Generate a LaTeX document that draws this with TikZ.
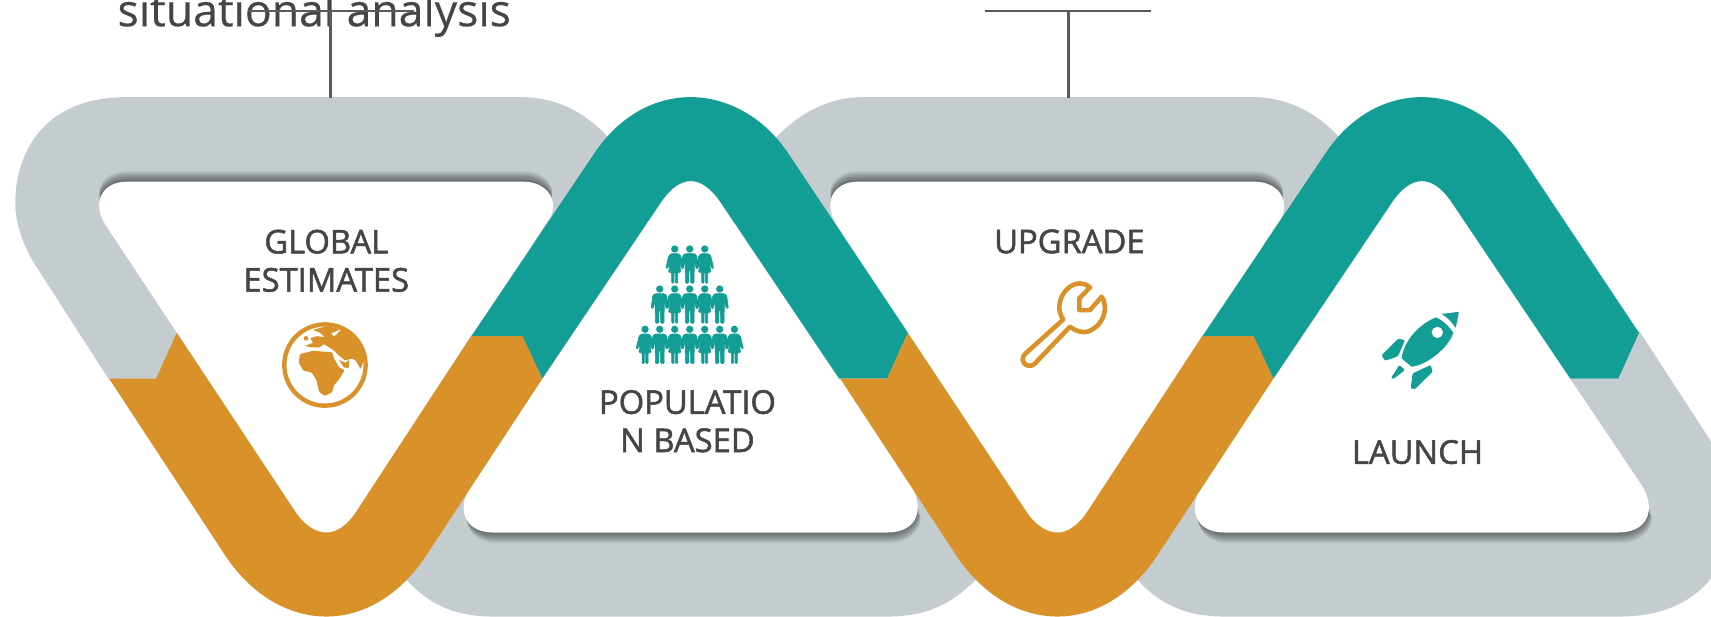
\documentclass[tikz,border=0pt]{standalone}
\usepackage{fontspec}
\setmainfont{Open Sans}
\newfontfamily\lblface[FakeBold=1.6]{Open Sans}
\newfontfamily\topface[FakeBold=0.3]{Open Sans}
\definecolor{greyband}{HTML}{C4CCD0}
\definecolor{tealband}{HTML}{129E95}
\definecolor{orangeband}{HTML}{D9922A}
\definecolor{inkc}{HTML}{454545}
\definecolor{linec}{HTML}{5A5A5A}
\newcommand\holeDown[1]{\fill[#1] (116,166.5) -- (480,166.5) .. controls (498,166.5) and (512,180) .. (505,198) -- (327,468) .. controls (318,482) and (308,488) .. (299,488) .. controls (290,488) and (279,482) .. (270,468) -- (96,205) .. controls (84,185) and (94,166.5) .. (116,166.5) -- cycle;}
\newcommand\holeUp[1]{\fill[#1] (452,488) -- (813,488) .. controls (838,488) and (848,470) .. (836,447) -- (660,185) .. controls (651,172) and (642,166) .. (633,166) .. controls (624,166) and (615,172) .. (606,185) -- (430,447) .. controls (418,470) and (428,488) .. (452,488) -- cycle;}
\newcommand\shadeDown[1]{\fill[#1] (91,186) .. controls (91,175) and (102,166.5) .. (116,166.5) -- (480,166.5) .. controls (494,166.5) and (506,175) .. (506,186) -- (497,200) -- (100,200) -- cycle;}
\newcommand\shadeUp[1]{\fill[#1] (425,465) .. controls (425,478) and (436,488) .. (452,488) -- (813,488) .. controls (828,488) and (841,478) .. (841,465) -- (832,450) -- (434,450) -- cycle;}
\newcommand\orangeV{\fill[orangeband] (100,347) -- (143,347) -- (162,305) -- (270,468) .. controls (279,482) and (290,488) .. (299,488) .. controls (308,488) and (318,482) .. (327,468) -- (432,307.5) -- (479,307.5) -- (497,347) -- (390,510) .. controls (365,547) and (332,565) .. (299,565) .. controls (266,565) and (232,547) .. (207,510) -- cycle;}
\newcommand\tealA{\fill[tealband] (432,308) -- (545,140) .. controls (568,106) and (600,89) .. (633,89) .. controls (665,89) and (699,106) .. (722,140) -- (832,305) -- (813,347) -- (769,347) -- (660,185) .. controls (651,172) and (642,166) .. (633,166) .. controls (624,166) and (615,172) .. (606,185) -- (497,347) -- (479,308) -- cycle;}
\newcommand\personM[2]{\begin{scope}[shift={(#1,#2)}]
\fill (0,0) circle (11);
\filldraw[line width=.5pt,rounded corners=1pt] (-15,14) -- (15,14) -- (21,20) -- (26,58) -- (19,58) -- (14,32) -- (13,103) -- (3,103) -- (2,62) -- (-2,62) -- (-3,103) -- (-13,103) -- (-14,32) -- (-19,58) -- (-26,58) -- (-21,20) -- cycle;
\end{scope}}
\newcommand\personW[2]{\begin{scope}[shift={(#1,#2)}]
\fill (0,0) circle (11);
\filldraw[line width=.5pt,rounded corners=1pt] (-11,14) -- (11,14) -- (18,20) -- (27,58) -- (21,58) -- (11,32) -- (19,70) -- (9,70) -- (9,103) -- (2,103) -- (2,70) -- (-2,70) -- (-2,103) -- (-9,103) -- (-9,70) -- (-19,70) -- (-11,32) -- (-21,58) -- (-27,58) -- (-18,20) -- cycle;
\end{scope}}
\tikzset{
  lbl/.style={font=\lblface\fontsize{30}{35}\selectfont, text=inkc, align=center, inner sep=0pt},
  stem/.style={draw=linec, line width=2.4pt},
  iconzoom/.style={x=0.3055pt, y=-0.3055pt}
}
\begin{document}
\begin{tikzpicture}[x=1pt,y=-1pt]
\useasboundingbox (0,0) rectangle (1568,565.4);
\clip (0,0) rectangle (1568,565.4);
\fill[white] (0,0) rectangle (1568,565.4);
% grey bands
\fill[greyband] (116,89) -- (477,89) .. controls (510,89) and (540,103) .. (565,135) -- (520,195) -- (300,400) -- (170,400) -- (100,348) -- (35,247) .. controls (25,232) and (14,210) .. (14,186) .. controls (14,140) and (40,89) .. (116,89) -- cycle;
\fill[greyband] (452,565) -- (814,565) .. controls (850,565) and (875,553) .. (900,525) -- (835,447) -- (430,447) -- (367,525) .. controls (390,553) and (415,565) .. (452,565) -- cycle;
\fill[greyband] (791,89) -- (1147,89) .. controls (1180,89) and (1210,103) .. (1235,135) -- (1190,195) -- (969,400) -- (750,195) -- (703,135) .. controls (730,103) and (760,89) .. (791,89) -- cycle;
\fill[greyband] (1122,565) -- (1484,565) .. controls (1560,565) and (1588,515) .. (1588,468) .. controls (1588,445) and (1577,422) .. (1567,403) -- (1502,303) -- (1483,347) -- (1438,347) -- (1100,447) -- (1037,525) .. controls (1060,553) and (1085,565) .. (1122,565) -- cycle;
% shadows
\foreach \i in {1,...,20}{
  \shadeDown{black,opacity=.028,shift={(0,-\i*.5)}}
  \shadeDown{black,opacity=.028,shift={(670,-\i*.5)}}
  \shadeUp{black,opacity=.028,shift={(.15*\i,\i*.5)}}
  \shadeUp{black,opacity=.028,shift={(670+.15*\i,\i*.5)}}
}
% white fields
\holeDown{white}
\holeUp{white}
\holeDown{white,shift={(670,0)}}
\holeUp{white,shift={(670,0)}}
% coloured bands
\orangeV
\tealA
\begin{scope}[shift={(670,0)}]\orangeV\end{scope}
\begin{scope}[shift={(670,0)}]\tealA\end{scope}
% globe
\begin{scope}[shift={(247.4,284.1)},iconzoom,orangeband]
\draw[line width=4pt] (165,165) circle (122);
\fill[rounded corners=1pt] (90,132) -- (130,122) -- (150,124) -- (187,127) -- (192,145) -- (207,172) -- (224,180) -- (208,207) -- (192,226) -- (187,246) -- (165,258) -- (147,245) -- (140,212) -- (125,187) -- (100,182) -- (86,157) -- cycle;
\fill[rounded corners=1pt] (128,60) -- (170,48) -- (212,58) -- (182,70) -- (192,80) -- (215,58) -- (250,82) -- (285,140) -- (272,178) -- (258,152) -- (245,145) -- (226,152) -- (205,135) -- (190,120) -- (162,102) -- (150,112) -- (125,112) -- (104,108) -- (130,98) -- (120,85) -- (140,78) -- (165,82) -- (150,68) -- cycle;
\fill (108,85) circle (7);
\fill (207,150) -- (226,158) -- (238,150) -- (236,175) -- (222,172) -- cycle;
\end{scope}
% wrench
\begin{scope}[shift={(916.4,238.3)},iconzoom]
\draw[orangeband,line width=4.2pt,line join=round] (75,282) -- (190,178) .. controls (160,140) and (190,72) .. (240,70) .. controls (250,70) and (260,74) .. (270,82) -- (238,115) -- (238,150) -- (270,150) -- (305,110) .. controls (325,140) and (315,190) .. (270,212) .. controls (250,222) and (225,212) .. (210,200) -- (105,310) .. controls (90,325) and (70,315) .. (68,300) .. controls (68,292) and (70,287) .. (75,282) -- cycle;
\end{scope}
% rocket
\begin{scope}[shift={(1246.3,265.8)},iconzoom,tealband]
\fill (228,82) .. controls (170,105) and (130,160) .. (125,205) -- (155,230) .. controls (200,225) and (265,175) .. (280,128) .. controls (268,110) and (250,92) .. (228,82) -- cycle;
\fill[white] (232,127) circle (17);
\fill[rounded corners=1pt] (245,72) -- (297,65) -- (287,115) .. controls (277,97) and (262,82) .. (245,72) -- cycle;
\fill[rounded corners=1pt] (65,195) -- (115,146) -- (135,150) -- (118,190) -- (112,200) -- (75,212) -- cycle;
\fill[rounded corners=1pt] (93,264) -- (118,225) -- (135,240) -- (100,267) -- cycle;
\fill[rounded corners=1pt] (152,295) -- (158,250) -- (212,225) -- (218,245) -- (165,297) -- cycle;
\end{scope}
% people
\begin{scope}[shift={(549.9,201.6)},iconzoom,tealband]
\personW{224}{87}\personM{269}{87}\personW{314}{87}
\personM{179}{207}\personW{224}{207}\personM{269}{207}\personW{314}{207}\personM{359}{207}
\personW{135}{328}\personM{179}{328}\personW{224}{328}\personM{269}{328}\personW{314}{328}\personM{359}{328}\personW{403}{328}
\end{scope}
% labels
\node[lbl] (global) at (299,239) {GLOBAL\\ESTIMATES};
\node[lbl] (popul) at (630,386) {POPULATIO\\N BASED};
\node[lbl,anchor=base] (upg) at (980,232) {UPGRADE};
\node[lbl,anchor=base] (lnch) at (1299,425) {LAUNCH};
\node[font=\topface\fontsize{40.8}{44}\selectfont, text=inkc, inner sep=0pt, anchor=base] (situ) at (288,24) {situational analysis};
% callout lines
\coordinate (a0) at (303,90);
\coordinate (a1) at (303,10);
\coordinate (al) at (227,10);
\coordinate (ar) at (379,10);
\coordinate (b0) at (979,90);
\coordinate (b1) at (979,10);
\coordinate (bl) at (903,10);
\coordinate (br) at (1055,10);
\draw[stem] (a0) -- (a1);
\draw[stem,line width=1.8pt] (al) -- (ar);
\draw[stem] (b0) -- (b1);
\draw[stem,line width=1.8pt] (bl) -- (br);
\end{tikzpicture}
\end{document}
